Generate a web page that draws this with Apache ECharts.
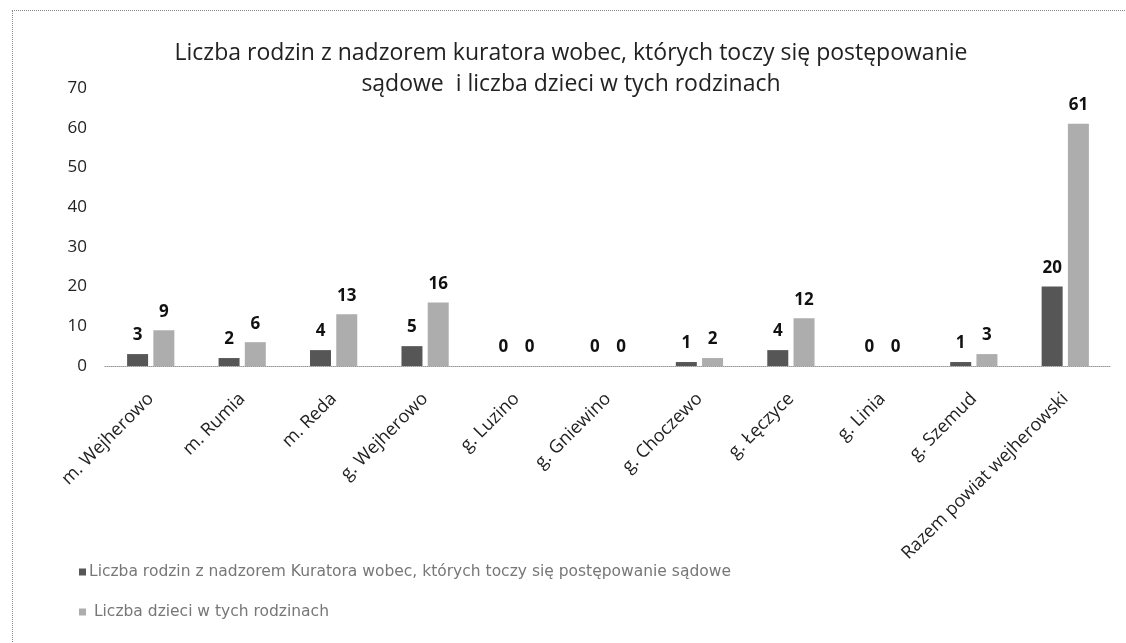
<!DOCTYPE html>
<html>
<head>
<meta charset="utf-8">
<script src="https://cdn.jsdelivr.net/npm/echarts@6/dist/echarts.min.js"></script>
<style>
  html, body { margin: 0; padding: 0; background: #fff; }
  #frame {
    position: absolute; left: 12px; top: 10px; width: 1114px; height: 633px;
    border-left: 1px dotted #888; border-top: 1px dotted #888;
  }
  #chart { position: absolute; left: 0; top: 0; width: 1126px; height: 643px; }
</style>
</head>
<body>
<div id="frame"></div>
<div id="chart"></div>
<script>
// kategorie (gminy i miasta)
const categories = [
  'm. Wejherowo', 'm. Rumia', 'm. Reda', 'g. Wejherowo', 'g. Luzino',
  'g. Gniewino', 'g. Choczewo', 'g. Łęczyce', 'g. Linia', 'g. Szemud',
  'Razem powiat wejherowski'
]
const rodziny = [3, 2, 4, 5, 0, 0, 1, 4, 0, 1, 20]
const dzieci = [9, 6, 13, 16, 0, 0, 2, 12, 0, 3, 61]
const yTicks = [0, 10, 20, 30, 40, 50, 60, 70]

const seriesNames = [
  'Liczba rodzin z nadzorem Kuratora wobec, których toczy się postępowanie sądowe',
  ' Liczba dzieci w tych rodzinach'
]

const FONT = '"Open Sans", "Noto Sans", sans-serif'

const chart = echarts.init(document.getElementById('chart'))

const labelStyle = {
  show: true,
  position: 'top',
  distance: 10,
  color: '#111',
  fontWeight: 'bold',
  fontSize: 17,
  fontFamily: FONT
}

chart.setOption({
  animation: false,
  textStyle: { fontFamily: FONT },
  title: {
    text: 'Liczba rodzin z nadzorem kuratora wobec, których toczy się postępowanie\nsądowe  i liczba dzieci w tych rodzinach',
    left: 566,
    top: 33,
    textAlign: 'center',
    textStyle: {
      color: '#222',
      fontWeight: 'normal',
      fontSize: 23,
      lineHeight: 31,
      fontFamily: FONT
    }
  },
  legend: {
    orient: 'vertical',
    left: 74,
    top: 559,
    itemGap: 24,
    itemWidth: 7,
    itemHeight: 7,
    icon: 'rect',
    textStyle: { color: '#777', fontSize: 15.5, fontFamily: '"DejaVu Sans", sans-serif', padding: [0, 0, 0, -2] },
    data: seriesNames
  },
  grid: {
    left: 105,
    right: 15,
    top: 88,
    bottom: 277,
    containLabel: false
  },
  xAxis: {
    type: 'category',
    data: categories,
    axisLine: { lineStyle: { color: '#999', type: 'dotted', width: 1 } },
    axisTick: { show: false },
    axisLabel: {
      rotate: 45,
      interval: 0,
      margin: 30,
      color: '#222',
      fontSize: 18,
      fontFamily: FONT
    }
  },
  yAxis: {
    type: 'value',
    min: yTicks[0],
    max: yTicks[yTicks.length - 1],
    interval: 10,
    splitLine: { show: false },
    axisLine: { show: false },
    axisTick: { show: false },
    axisLabel: {
      margin: 18,
      color: '#222',
      fontSize: 17,
      fontFamily: FONT
    }
  },
  series: [
    {
      name: seriesNames[0],
      type: 'bar',
      data: rodziny,
      barWidth: 21,
      barGap: '25%',
      itemStyle: { color: '#565656' },
      label: labelStyle
    },
    {
      name: seriesNames[1],
      type: 'bar',
      data: dzieci,
      barWidth: 21,
      itemStyle: { color: '#adadad' },
      label: labelStyle
    }
  ]
})

window.addEventListener('resize', () => chart.resize())
</script>
</body>
</html>
